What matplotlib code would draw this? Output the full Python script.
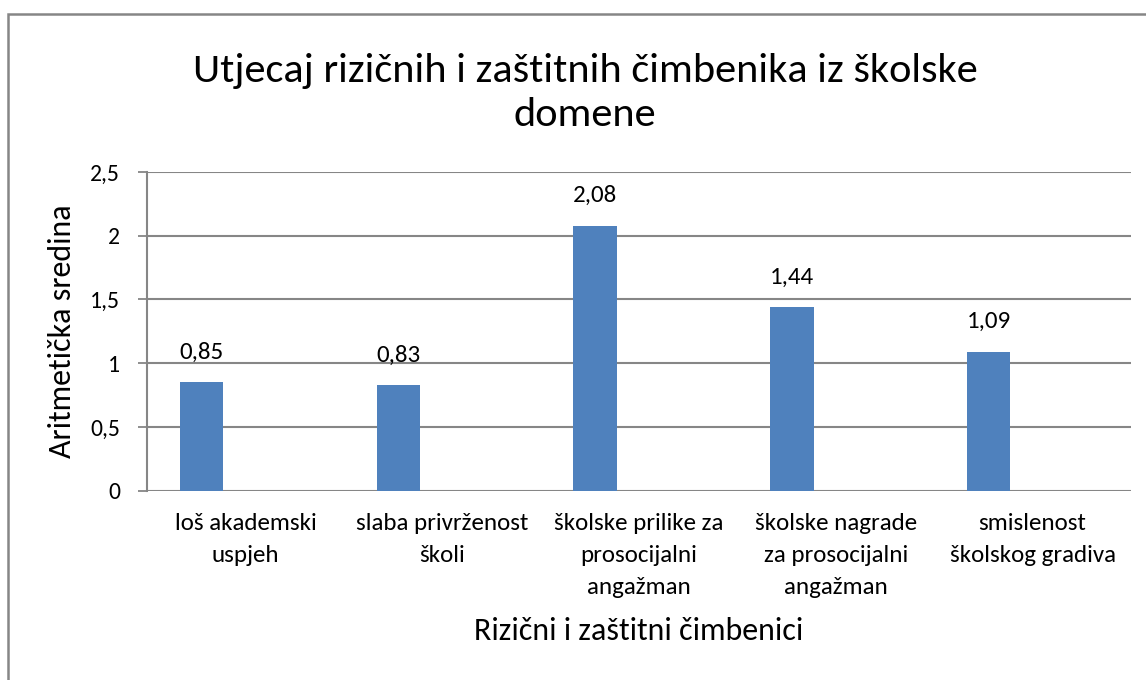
import matplotlib
matplotlib.use("Agg")
import matplotlib.pyplot as plt
from matplotlib.patches import Rectangle

plt.rcParams['font.family'] = ['Carlito', 'Lato', 'DejaVu Sans']

# data
categories = ["loš akademski\nuspjeh", "slaba privrženost\nškoli",
              "školske prilike za\nprosocijalni\nangažman",
              "školske nagrade\nza prosocijalni\nangažman",
              "smislenost\nškolskog gradiva"]
values = [0.85, 0.83, 2.08, 1.44, 1.09]
value_labels = ["0,85", "0,83", "2,08", "1,44", "1,09"]
yticks = [0, 0.5, 1, 1.5, 2, 2.5]
ytick_labels = ["0", "0,5", "1", "1,5", "2", "2,5"]

W, H = 1146, 680
fig = plt.figure(figsize=(W / 100, H / 100), dpi=100)

# outer chart border (Excel style)
fig.patches.append(Rectangle((8 / W, -0.1), 1.2, (H - 14) / H + 0.1,
                             transform=fig.transFigure, fill=False,
                             edgecolor='#868686', linewidth=1.8))

ax = fig.add_axes([147 / W, (H - 490.7) / H, (1131 - 147) / W, (490.7 - 172) / H])

grid_c = '#868686'
x = list(range(len(categories)))
bar_x = [i - 0.223 for i in x]
bars = ax.bar(bar_x, values, width=0.22, color='#4F81BD', zorder=3)

for bx, v, lab in zip(bar_x, values, value_labels):
    ax.annotate(lab, (bx, v), xytext=(0, 14), textcoords='offset points',
                ha='center', va='bottom', fontsize=18)

ax.set_xlim(-0.5, len(categories) - 0.5)
ax.set_ylim(0, 2.5)
ax.set_yticks(yticks)
ax.set_yticklabels(ytick_labels, fontsize=17)
ax.set_xticks(x)
ax.set_xticklabels(categories, fontsize=18, linespacing=1.65, va='top')
ax.tick_params(axis='x', length=0, pad=16)
ax.tick_params(axis='y', length=6.5, width=1.3, color=grid_c, pad=13)

ax.grid(axis='y', color=grid_c, linewidth=1.5, zorder=0)
for s in ['top', 'right', 'bottom']:
    ax.spines[s].set_visible(False)
ax.spines['left'].set_color(grid_c)
ax.spines['left'].set_linewidth(1.5)

ax.set_ylabel("Aritmetička sredina", fontsize=23, labelpad=10)
ax.set_xlabel("Rizični i zaštitni čimbenici", fontsize=23, labelpad=14)

fig.text(585 / W, 1 - 93 / H, "Utjecaj rizičnih i zaštitnih čimbenika iz školske\ndomene",
         ha='center', va='center', fontsize=30.5, linespacing=1.3)

fig.savefig("out.png", dpi=100)
